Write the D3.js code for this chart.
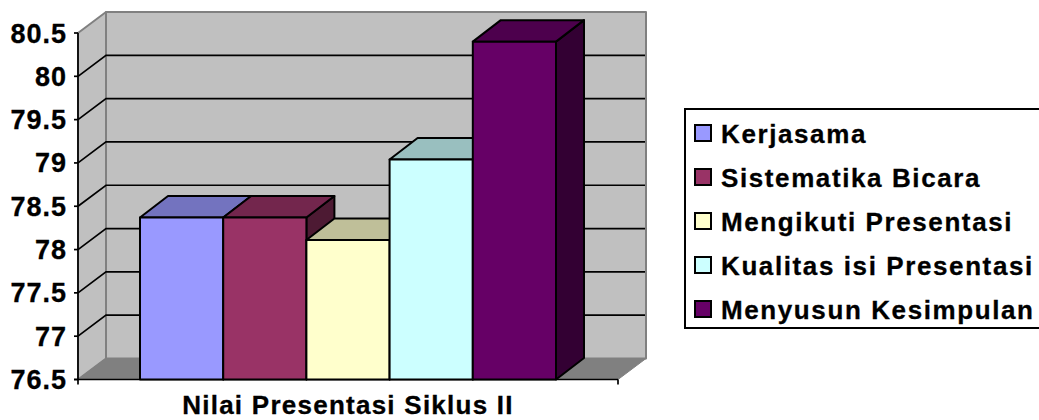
<!DOCTYPE html>
<html>
<head>
<meta charset="utf-8">
<script src="https://cdn.jsdelivr.net/npm/d3@7"></script>
<style>
html, body { margin: 0; padding: 0; background: #fff; overflow: hidden; }
text { font-family: "Liberation Sans", Arial, sans-serif; font-weight: bold; fill: #000; stroke: #000; stroke-width: 0.3px; }
</style>
</head>
<body>
<div id="chart"></div>
<script>
// Values
var seriesNames = ["Kerjasama", "Sistematika Bicara", "Mengikuti Presentasi", "Kualitas isi Presentasi", "Menyusun Kesimpulan"];
var seriesValues = [78.37, 78.37, 78.11, 79.04, 80.4];
var yTicks = [76.5, 77, 77.5, 78, 78.5, 79, 79.5, 80, 80.5];
var categoryLabel = "Nilai Presentasi Siklus II";

var frontColors = ["#9999ff", "#993366", "#ffffcc", "#ccffff", "#660066"];
var topColors = ["#7373bf", "#73264d", "#bfbf99", "#99bfbf", "#4d004d"];
var sideColors = ["#4d4d80", "#4d1a33", "#808066", "#668080", "#330033"];

var width = 1039;
var height = 420;

// depth of the fake 3d box
var depthX = 28;
var depthY = 21;
var barDepthY = 21.5;

var x0 = 78, x1 = 618;
var y = d3.scaleLinear().domain([76.5, 80.5]).range([379.5, 33]);
var x = d3.scaleBand().domain(seriesNames).range([140, 556]);

var svg = d3.select("#chart")
    .append("svg")
    .attr("width", width)
    .attr("height", height)
    .style("display", "block");

function poly(points, fill, stroke, sw) {
    return svg.append("polygon")
        .attr("points", points.map(function (p) { return p.join(","); }).join(" "))
        .attr("fill", fill)
        .attr("stroke", stroke)
        .attr("stroke-width", sw)
        .attr("stroke-linejoin", "round");
}

var yTop = y(80.5), yBot = y(76.5);

// walls and floor
poly([[x0, yTop], [x0 + depthX, yTop - depthY], [x0 + depthX, yBot - depthY], [x0, yBot]], "#c0c0c0", "#808080", 2);
poly([[x0 + depthX, yTop - depthY], [x1 + depthX, yTop - depthY], [x1 + depthX, yBot - depthY], [x0 + depthX, yBot - depthY]], "#c0c0c0", "#808080", 2);
poly([[x0, yBot], [x0 + depthX, yBot - depthY], [x1 + depthX, yBot - depthY], [x1, yBot]], "#808080", "#808080", 1);

// gridlines, running along the side wall and the back wall
yTicks.slice(1, -1).forEach(function (t) {
    svg.append("polyline")
        .attr("points", [[x0, y(t)], [x0 + depthX, y(t) - depthY], [x1 + depthX - 1, y(t) - depthY]].join(" "))
        .attr("fill", "none")
        .attr("stroke", "#000")
        .attr("stroke-width", 1.7);
});

// axis lines
var axisG = svg.append("g");
axisG.append("line").attr("x1", x0).attr("x2", x0).attr("y1", yTop).attr("y2", yBot);
axisG.append("line").attr("x1", x0 - 4).attr("x2", x1).attr("y1", yBot).attr("y2", yBot);
axisG.append("line").attr("x1", x0).attr("x2", x0).attr("y1", yBot).attr("y2", yBot + 5);
axisG.append("line").attr("x1", x1).attr("x2", x1).attr("y1", yBot).attr("y2", yBot + 5);
axisG.selectAll(".tick-mark")
    .data(yTicks)
    .enter()
    .append("line")
    .attr("x1", x0 - 4)
    .attr("x2", x0)
    .attr("y1", function (d) { return y(d); })
    .attr("y2", function (d) { return y(d); });
axisG.selectAll("line").attr("stroke", "#000").attr("stroke-width", 1.7);

// y labels
svg.selectAll(".y-label")
    .data(yTicks)
    .enter()
    .append("text")
    .attr("x", 67)
    .attr("y", function (d) { return y(d) + 9.5; })
    .attr("text-anchor", "end")
    .style("font-size", "27px")
    .style("letter-spacing", "1px")
    .text(function (d) { return d; });

// bars, left to right so each one covers the side of the previous
seriesNames.forEach(function (name, i) {
    var l = x(name), r = l + x.bandwidth();
    var t = y(seriesValues[i]);
    poly([[r, t], [r + depthX, t - barDepthY], [r + depthX, yBot - barDepthY], [r, yBot]], sideColors[i], "#000", 2);
    poly([[l, t], [l + depthX, t - barDepthY], [r + depthX, t - barDepthY], [r, t]], topColors[i], "#000", 2);
    poly([[l, t], [r, t], [r, yBot], [l, yBot]], frontColors[i], "#000", 2);
});

// category label
svg.append("text")
    .attr("x", 348)
    .attr("y", 414)
    .attr("text-anchor", "middle")
    .style("font-size", "26px")
    .style("letter-spacing", "1.25px")
    .text(categoryLabel);

// legend
svg.append("rect")
    .attr("x", 685)
    .attr("y", 109)
    .attr("width", 370)
    .attr("height", 219)
    .attr("fill", "#fff")
    .attr("stroke", "#000")
    .attr("stroke-width", 2);

var legend = svg.selectAll(".legend")
    .data(seriesNames)
    .enter()
    .append("g")
    .attr("transform", function (d, i) { return "translate(0," + (133 + i * 44) + ")"; });

legend.append("rect")
    .attr("x", 695)
    .attr("y", -8)
    .attr("width", 16)
    .attr("height", 16)
    .attr("fill", function (d, i) { return frontColors[i]; })
    .attr("stroke", "#000")
    .attr("stroke-width", 2);

legend.append("text")
    .attr("x", 721)
    .attr("y", 10)
    .style("font-size", "26px")
    .style("letter-spacing", "1.6px")
    .text(function (d) { return d; });
</script>
</body>
</html>
